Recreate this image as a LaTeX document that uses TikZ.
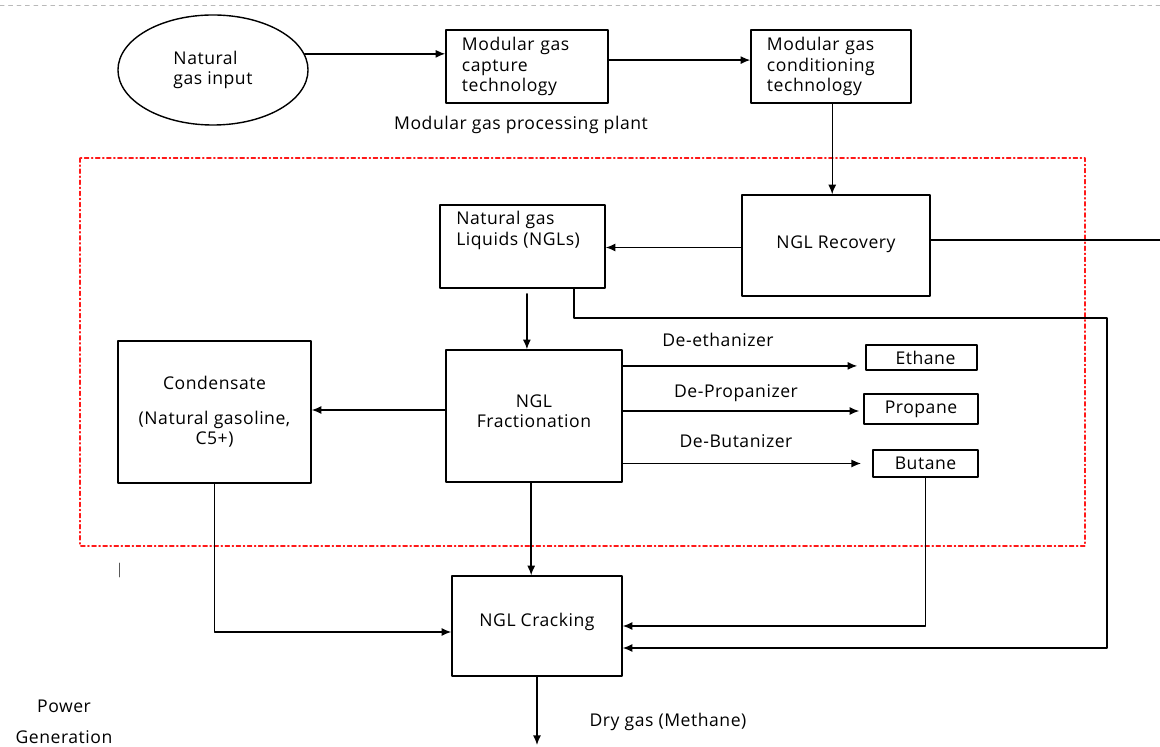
\documentclass[tikz,border=0pt]{standalone}
\usepackage{fontspec}
\setmainfont[LetterSpace=3]{Open Sans}
\usetikzlibrary{shapes.geometric,arrows.meta}

\begin{document}
\begin{tikzpicture}[x=0.025cm,y=-0.025cm,line cap=round,line join=round,
  >={Latex[length=2.4mm,width=2mm]},
  font=\fontsize{12.5}{14.5}\selectfont,
  box/.style={draw,line width=1pt,inner sep=0pt},
  wire/.style={line width=1pt}]
  \useasboundingbox (0,0) rectangle (1160,747);
  \draw[gray!55,dashed,line width=0.3pt] (0,5) -- (1160,5);
  \node[box,ellipse,minimum width=4.75cm,minimum height=2.75cm,align=left] (input) at (213,70) {Natural\\gas input};
  \node[box,minimum width=4.05cm,minimum height=1.825cm,text width=3.25cm,inner xsep=0.4cm,align=left] (capture) at (527,66.5) {Modular gas\\capture\\technology};
  \node[box,minimum width=4.0cm,minimum height=1.825cm,text width=3.2cm,inner xsep=0.4cm,align=left] (condit) at (831,66.5) {Modular gas\\conditioning\\technology};
  \node (plant) at (521,125) {Modular gas processing plant};
  \draw[red!90,line width=0.9pt,dash dot] (80,158) rectangle (1085,546);
  \node[box,minimum width=4.7cm,minimum height=2.525cm,text depth=0.15cm] (recov) at (836,245.5) {NGL Recovery};
  \node[box,minimum width=4.125cm,minimum height=2.075cm] (ngl) at (522.5,246.5) {};
  \node[anchor=north west,inner sep=0pt,align=left] (ngltext) at (456,211) {Natural gas\\Liquids (NGLs)};
  \node[box,minimum width=4.4cm,minimum height=3.3cm,align=center,text depth=0.25cm] (frac) at (534,416) {NGL\\Fractionation};
  \node[box,minimum width=4.825cm,minimum height=3.55cm,align=center] (cond) at (214.5,412) {Condensate\\[0.35cm](Natural gasoline,\\C5+)};
  \node[box,minimum width=2.775cm,minimum height=0.625cm] (ethane) at (921.5,357.5) {\hspace{0.2cm}Ethane};
  \node[box,minimum width=2.85cm,minimum height=0.75cm] (propane) at (921,409) {Propane};
  \node[box,minimum width=2.625cm,minimum height=0.675cm] (butane) at (925.5,463.5) {Butane};
  \node[box,minimum width=4.25cm,minimum height=2.5cm,text depth=0.3cm] (crack) at (537,626) {NGL Cracking};
  \node (deeth) at (718,340) {De-ethanizer};
  \node (deprop) at (736,393) {De-Propanizer};
  \node (debut) at (736,441) {De-Butanizer};
  \node (drygas) at (668,722) {Dry gas (Methane)};
  \node[align=center] (power) at (64,722) {Power\\[0.25cm]Generation};
  \coordinate (exitR) at (1160,240);
  \coordinate (bend) at (1107,318);
  \coordinate (outlet) at (537,745);
  \draw[wire,->] (input.10) -- (input.10 -| capture.west);
  \draw[wire,->] ([yshift=0.16cm]capture.east) -- ([yshift=0.16cm]capture.east -| condit.west);
  \draw[wire,->] ([xshift=0.03cm]condit.south) -- ([xshift=0.03cm]condit.south |- recov.north);
  \draw[wire] ([yshift=0.14cm]recov.east) -- ([yshift=0.14cm]recov.east -| exitR);
  \draw[wire,->] ([yshift=-0.05cm]recov.west) -- ([yshift=-0.05cm]recov.west -| ngl.east);
  \draw[wire,->] ([xshift=0.11cm,yshift=-0.13cm]ngl.south) -- ([xshift=0.11cm]ngl.south |- frac.north);
  \draw[wire,->] ([xshift=1.29cm]ngl.south) |- (bend) |- ([yshift=-0.55cm]crack.east);
  \draw[wire,->] ([yshift=0.15cm]frac.west) -- ([yshift=0.15cm]frac.west -| cond.east);
  \draw[wire,->] ([yshift=-0.21cm]frac.east |- ethane.west) -- ([xshift=-0.2cm,yshift=-0.21cm]ethane.west);
  \draw[wire,->] ([yshift=-0.05cm]frac.east |- propane.west) -- ([xshift=-0.1cm,yshift=-0.05cm]propane.west);
  \draw[wire,->] (frac.east |- butane.west) -- ([xshift=-0.28cm]butane.west);
  \draw[wire,->] ([xshift=-0.07cm]frac.south) -- ([xshift=-0.07cm]frac.south |- crack.north);
  \draw[wire,->] (cond.south) |- ([yshift=-0.15cm]crack.west);
  \draw[wire,->] (butane.south) |- (crack.east);
  \draw[wire,->] (crack.south) -- (outlet);
  \draw[line width=0.6pt,gray!70!black] (119,563) -- (119,577);
\end{tikzpicture}
\end{document}
